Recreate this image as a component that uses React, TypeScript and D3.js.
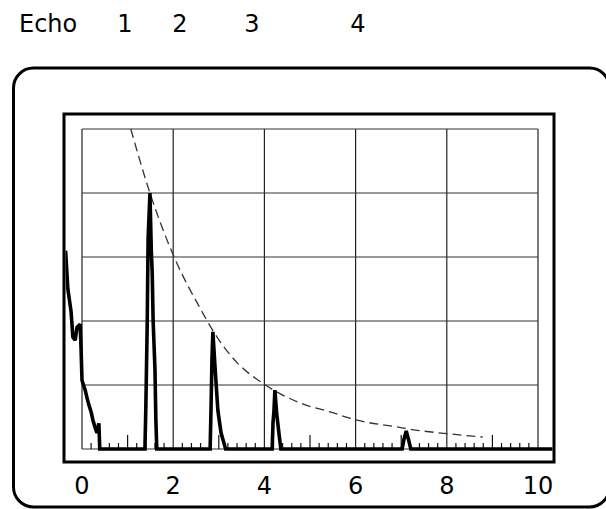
import React from 'react';
import * as d3 from 'd3';

// ---- data ----
const xTickLabels = [0, 2, 4, 6, 8, 10];
const gridX = [0, 2, 4, 6, 8, 10];
const gridY = [0, 20, 40, 60, 80, 100];
const headerLabels = ['Echo', '1', '2', '3', '4'];

// A-scan trace (time units, amplitude in % screen height)
const traceX = [
  -0.36, -0.31, -0.24, -0.2, -0.15, -0.11, -0.04, -0.02, 0, 0.07, 0.11, 0.15, 0.2, 0.24, 0.29, 0.33, 0.37, 0.39,
  1.38, 1.4, 1.43, 1.45, 1.49, 1.52, 1.54, 1.56, 1.6, 1.62, 1.64,
  2.81, 2.83, 2.85, 2.87, 2.92, 2.98, 3.05, 3.15,
  4.17, 4.19, 4.21, 4.23, 4.27, 4.31, 4.36,
  7.02, 7.06, 7.11, 7.16, 7.21,
  10.35,
];
const traceY = [
  62, 50, 43, 35, 34, 38, 39, 31, 21.5, 18.4, 16, 13.8, 11.6, 9, 6.6, 5, 8, 0,
  0, 13, 39, 66, 80, 62, 55, 40, 25, 9, 0,
  0, 13, 28, 36.6, 25, 12, 5, 0,
  0, 8.5, 12, 18.4, 11, 6, 0,
  0, 3, 5.6, 3, 0,
  0,
];

// Distance-amplitude correction curve (dashed)
const dacX = [1.07, 1.49, 2.02, 2.59, 2.87, 3.4, 3.99, 4.78, 5.44, 6.03, 6.91, 7.19, 8.07, 8.79];
const dacY = [100, 80, 60, 44, 37, 27, 20.3, 14.4, 11.6, 9, 6.9, 6.2, 4.7, 3.75];

const W = 606;
const H = 509;
const FONT = '"DejaVu Sans", "Liberation Sans", Arial, sans-serif';

export default function App() {
  const x = d3.scaleLinear().domain([0, 10]).range([82, 538]);
  const y = d3.scaleLinear().domain([0, 100]).range([449, 129]);

  const trace = d3
    .line<number>()
    .x((_, i) => x(traceX[i]))
    .y((d) => y(d))(traceY) as string;

  const dac = d3
    .line<number>()
    .x((_, i) => x(dacX[i]))
    .y((d) => y(d))
    .curve(d3.curveMonotoneX)(dacY) as string;

  const minorTicks = d3.range(1, 50).filter((i) => i % 10 !== 0);

  const headerX = [19, 125, 180, 252, 358];

  return (
    <svg
      width={W}
      height={H}
      viewBox={`0 0 ${W} ${H}`}
      style={{ position: 'absolute', left: 0, top: 0, background: '#fff' }}
    >
      <defs>
        <clipPath id="frameClip">
          <rect x={65.5} y={115.5} width={487} height={345} />
        </clipPath>
      </defs>

      {/* header labels */}
      {headerLabels.map((t, i) => (
        <text
          key={t}
          x={headerX[i]}
          y={32}
          fontFamily={FONT}
          fontSize={24}
          textAnchor={i === 0 ? 'start' : 'middle'}
          fill="#000"
        >
          {t}
        </text>
      ))}

      {/* outer rounded bezel */}
      <rect x={13.5} y={68} width={596} height={439} rx={20} ry={20} fill="none" stroke="#000" strokeWidth={3} />

      {/* inner screen frame */}
      <rect x={64} y={114} width={490} height={348} fill="none" stroke="#000" strokeWidth={3} />

      {/* grid */}
      {gridX.map((v) => (
        <line key={'gx' + v} x1={x(v)} x2={x(v)} y1={y(100)} y2={y(0)} stroke="#222" strokeWidth={1.2} />
      ))}
      {gridY.map((v) => (
        <line key={'gy' + v} x1={x(0)} x2={x(10)} y1={y(v)} y2={y(v)} stroke="#333" strokeWidth={1.2} />
      ))}

      {/* minor ticks along baseline */}
      {minorTicks.map((i) => {
        const v = i * 0.2;
        const tall = i % 5 === 0;
        return (
          <line
            key={'t' + i}
            x1={x(v)}
            x2={x(v)}
            y1={y(0)}
            y2={y(0) - (tall ? 14 : 6)}
            stroke="#111"
            strokeWidth={1.2}
          />
        );
      })}

      {/* DAC dashed curve */}
      <path d={dac} fill="none" stroke="#333" strokeWidth={1.3} strokeDasharray="9 5" />

      {/* A-scan trace */}
      <g clipPath="url(#frameClip)">
        <path d={trace} fill="none" stroke="#000" strokeWidth={3.6} strokeLinejoin="miter" strokeMiterlimit={2} />
      </g>

      {/* x-axis labels */}
      {xTickLabels.map((v) => (
        <text
          key={'xl' + v}
          x={x(v)}
          y={494}
          fontFamily={FONT}
          fontSize={24}
          textAnchor="middle"
          fill="#000"
        >
          {v}
        </text>
      ))}
    </svg>
  );
}
